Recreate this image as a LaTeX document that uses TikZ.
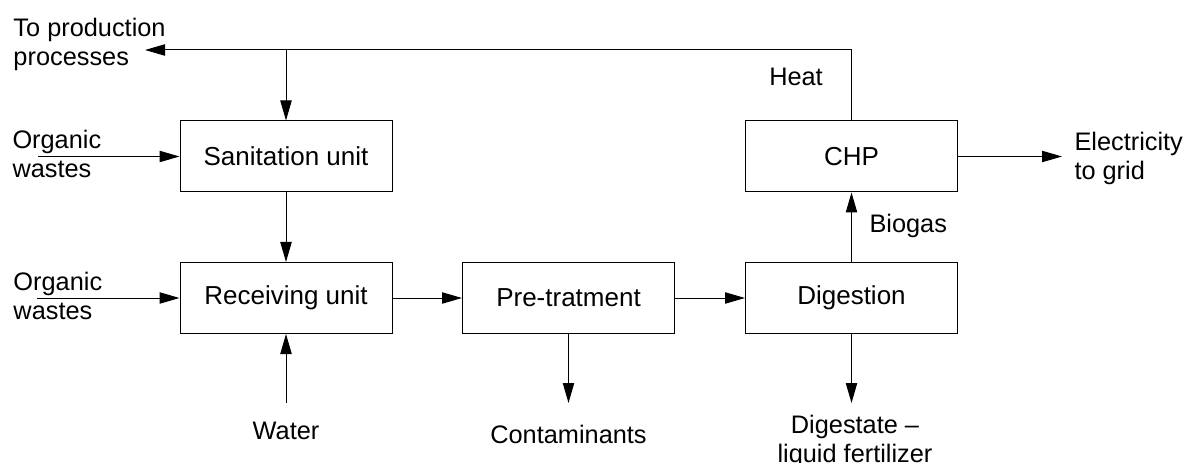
\documentclass[tikz,border=0pt]{standalone}
\usepackage{fontspec}
\setmainfont{Liberation Sans}
\usetikzlibrary{arrows.meta}
\begin{document}
\begin{tikzpicture}[x=0.75pt,y=-0.75pt,
  font=\fontsize{19}{21.75}\selectfont,
  line width=0.75pt,
  box/.style={draw,line width=0.75pt,minimum width=159pt,minimum height=53.25pt,inner sep=0pt,font=\fontsize{19.5}{21.75}\selectfont},
  lbl/.style={inner sep=0pt},
  arr/.style={-{Triangle[length=15pt,width=8.5pt]}}]
\useasboundingbox (0,0) rectangle (1184,463);
% boxes
\node[box] (san) at (286,156.5) {Sanitation unit};
\node[box] (rec) at (286,298) {Receiving unit};
\node[box] (pre) at (568.5,298) {Pre-tratment};
\node[box] (dig) at (851.5,298) {Digestion};
\node[box] (chp) at (851.5,156.5) {CHP};
% labels
\node[lbl,anchor=north west,align=left] (ltop) at (13,17.5) {To production\\processes};
\node[lbl,anchor=north west,align=left] (lorg1) at (12,129.5) {Organic\\wastes};
\node[lbl,anchor=north west,align=left] (lorg2) at (13,271.5) {Organic\\wastes};
\node[lbl,anchor=base] (lwater) at (286,439) {Water};
\node[lbl,anchor=base] (lcont) at (568.5,443.5) {Contaminants};
\node[lbl,anchor=north,align=center] (ldig) at (855,415) {Digestate --\\liquid fertilizer};
\node[lbl,anchor=base] (lheat) at (796,86) {Heat};
\node[lbl,anchor=base west] (lbio) at (869,233) {Biogas};
\node[lbl,anchor=north west,align=left] (lel) at (1074,131.5) {Electricity\\to grid};
% free ends
\coordinate (tl) at (851.5,50);
\coordinate (tp) at (145,50);
\coordinate (tj) at (286,50);
\coordinate (o1) at (38,156.5);
\coordinate (o2) at (37,298);
\coordinate (w) at (286,403);
\coordinate (c) at (568.5,403);
\coordinate (d) at (851.5,403);
\coordinate (e) at (1062,156.5);
% connectors
\draw[arr] (chp.north) -- (tl) -- (tp);
\draw[arr] (tj) -- (san.north);
\draw[arr] (o1) -- (san.west);
\draw[arr] (san.south) -- (rec.north);
\draw[arr] (o2) -- (rec.west);
\draw[arr] (w) -- (rec.south);
\draw[arr] (rec.east) -- (pre.west);
\draw[arr] (pre.south) -- (c);
\draw[arr] (pre.east) -- (dig.west);
\draw[arr] (dig.south) -- (d);
\draw[arr] (dig.north) -- (chp.south);
\draw[arr] (chp.east) -- (e);
\end{tikzpicture}
\end{document}
